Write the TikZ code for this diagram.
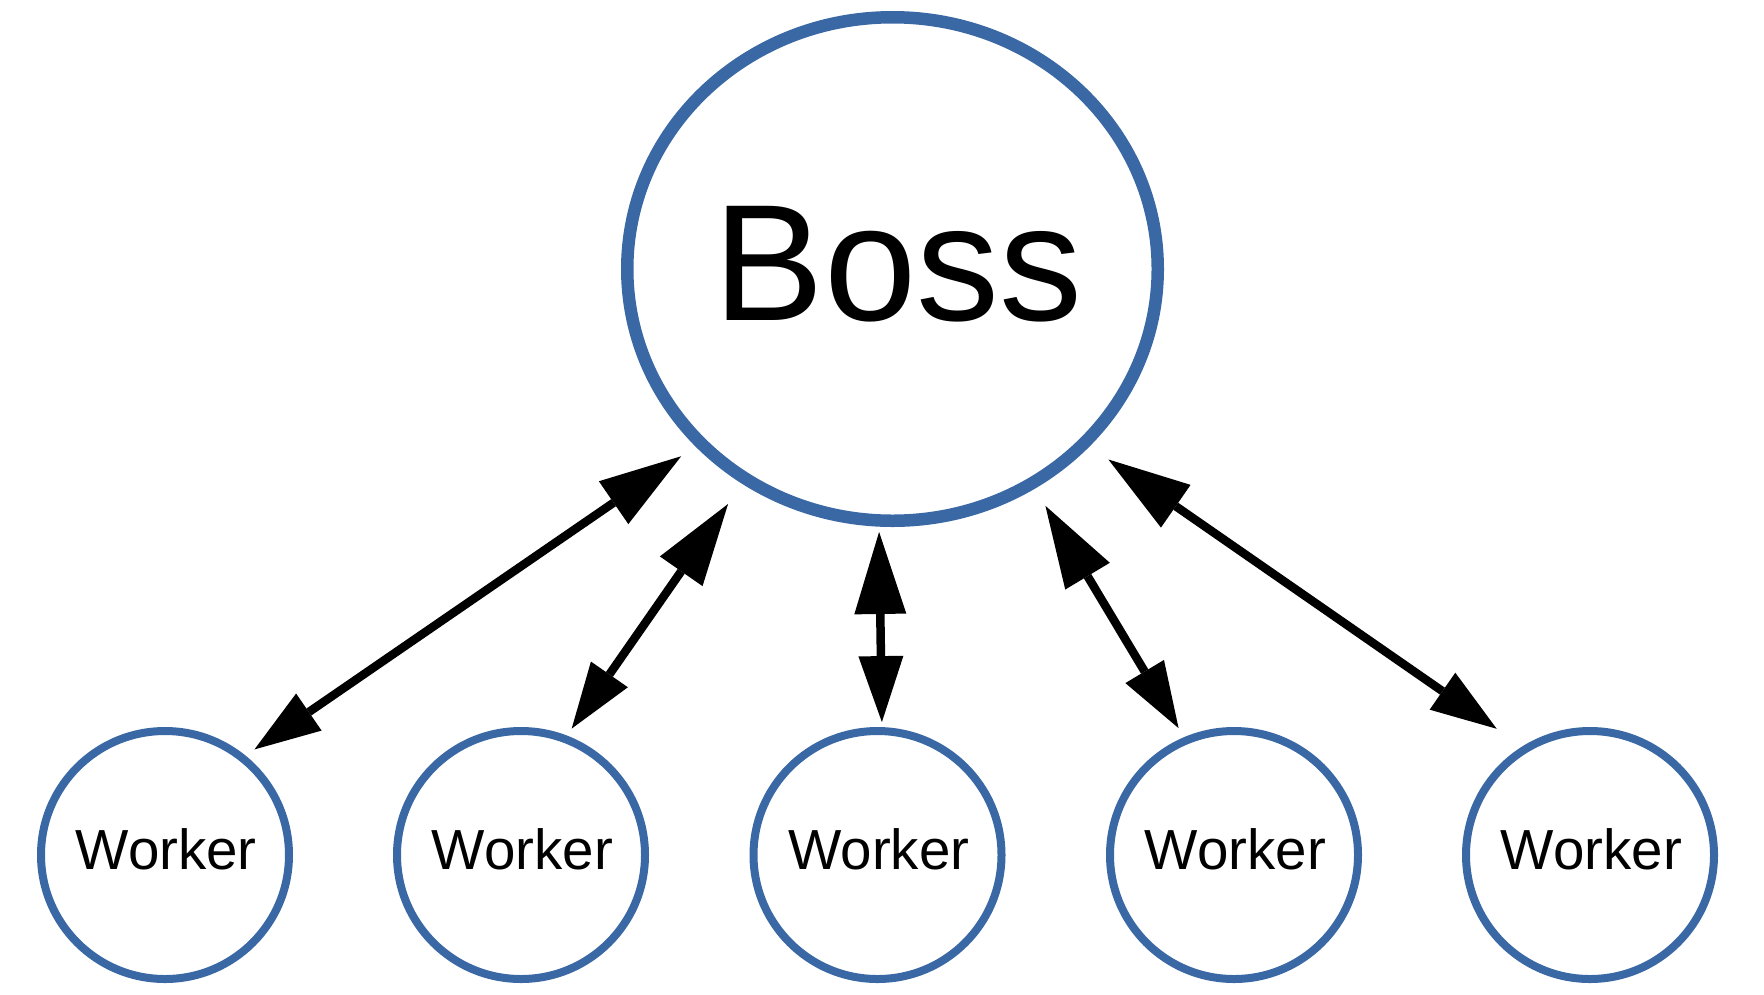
\documentclass[tikz,border=0pt]{standalone}
\usepackage{fontspec}
\setmainfont{Liberation Sans}
\usetikzlibrary{shapes.geometric,arrows.meta}
\definecolor{nodeblue}{HTML}{3A68A4}
\begin{document}
\begin{tikzpicture}[x=1pt,y=-1pt,
  bossnode/.style={ellipse, draw=nodeblue, line width=12.5pt, minimum width=530.5pt, minimum height=503.5pt, inner sep=0pt},
  workernode/.style={circle, draw=nodeblue, line width=8pt, minimum size=248pt, inner sep=0pt},
  bosstext/.style={font=\fontsize{166}{199}\selectfont, inner sep=0pt, anchor=base},
  workertext/.style={font=\fontsize{56.5}{68}\selectfont, inner sep=0pt, anchor=base},
  link/.style={line width=8.5pt, {Triangle[length=66pt,width=45pt,line width=0pt]}-{Triangle[length=82pt,width=52pt,line width=0pt]}}
]
\useasboundingbox (0,0) rectangle (1764,994);
\node[bossnode] (boss) at (892.5,269) {};
\node[bosstext] (bosslabel) at (898.2,320) {Boss};
\node[workernode] (w1) at (165,855) {};
\node[workernode] (w2) at (521,855) {};
\node[workernode] (w3) at (877.5,855) {};
\node[workernode] (w4) at (1234,855) {};
\node[workernode] (w5) at (1590,855) {};
\node[workertext] (t1) at (166.3,869) {Worker};
\node[workertext] (t2) at (522.3,869) {Worker};
\node[workertext] (t3) at (878.8,869) {Worker};
\node[workertext] (t4) at (1235.3,869) {Worker};
\node[workertext] (t5) at (1591.3,869) {Worker};
\draw[link, shorten <=10.8pt, shorten >=17.3pt] (w1.51.1) -- (boss.222.6);
\draw[link, shorten <=8.45pt, shorten >=24.6pt] (w2.69.7) -- (boss.235.0);
\draw[link, shorten <=5pt, shorten >=5.3pt] (w3.88.9) -- (boss.267.2);
\draw[link, shorten <=10.55pt, shorten >=20.1pt] (w4.113.0) -- (boss.303.8);
\draw[link, shorten <=31pt, shorten >=22.9pt] (w5.122.5) -- (boss.318.5);
\end{tikzpicture}
\end{document}
